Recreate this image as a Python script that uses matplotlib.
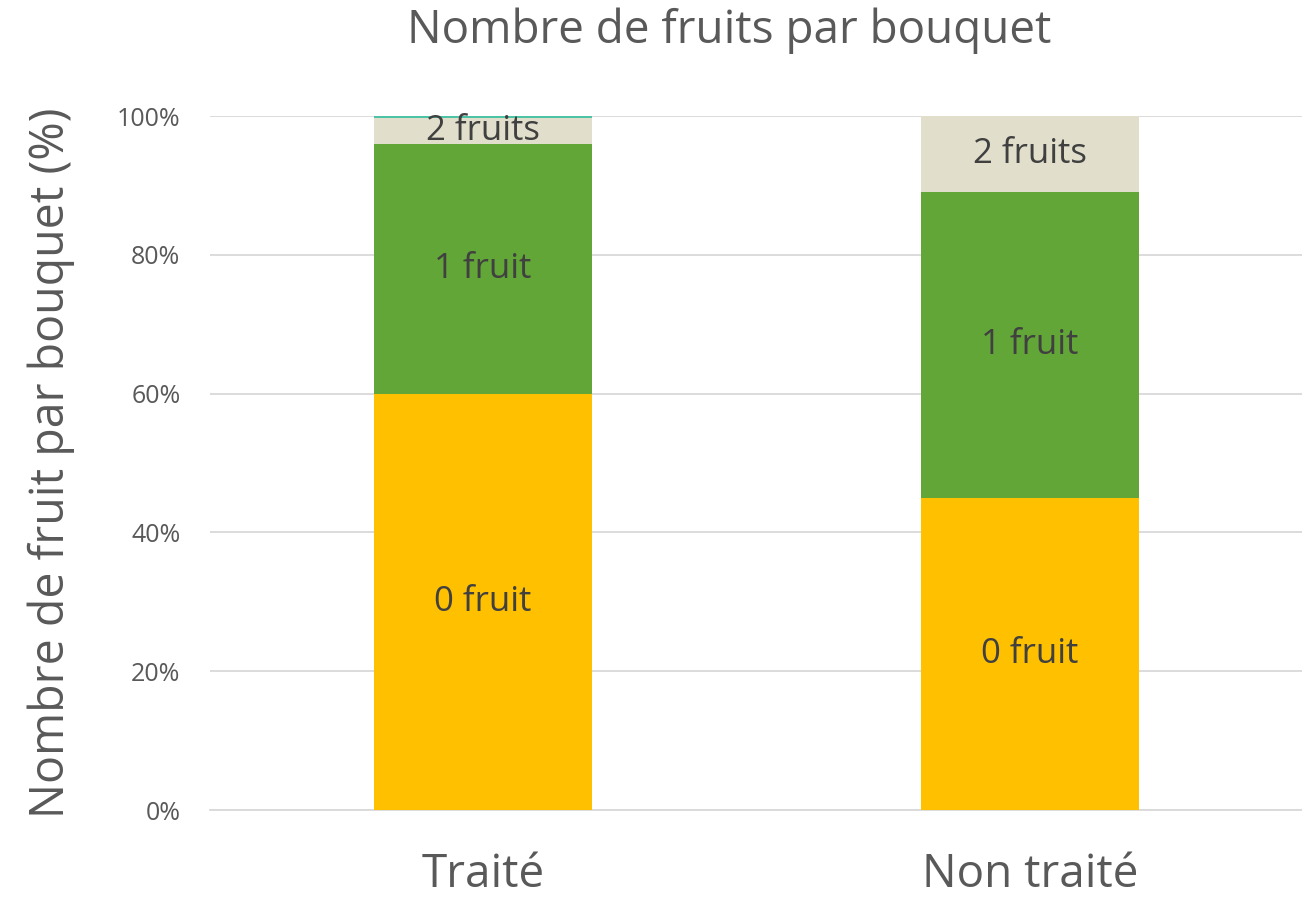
import matplotlib.pyplot as plt
import numpy as np

plt.rcParams['font.family'] = ['Open Sans', 'DejaVu Sans']

categories = ['Traité', 'Non traité']
fruit_0 = [60.0, 45.0]
fruit_1 = [36.0, 44.0]
fruit_2 = [3.7, 11.0]
fruit_3 = [0.3, 0.0]

series = [
    ('0 fruit', fruit_0, '#FFC000'),
    ('1 fruit', fruit_1, '#63A638'),
    ('2 fruits', fruit_2, '#E1DFCC'),
    ('3 fruits', fruit_3, '#4DC3A5'),
]

fig = plt.figure(figsize=(13.02, 9), dpi=100)
ax = fig.add_axes([0.161, 0.1, 0.840, 0.771])

x = np.arange(len(categories))
bottom = np.zeros(len(categories))
for name, vals, color in series:
    vals = np.array(vals)
    ax.bar(x, vals, 0.40, bottom=bottom, color=color, zorder=3)
    if name != '3 fruits':
        for xi, b, v in zip(x, bottom, vals):
            ax.text(xi, b + v / 2, name, ha='center', va='center',
                    fontsize=25, color='#404040', zorder=4)
    bottom += vals

ax.set_xlim(-0.5, 1.5)
ax.set_ylim(0, 100)
ax.set_yticks(np.arange(0, 101, 20))
ax.set_yticklabels([f'{v}%' for v in range(0, 101, 20)])
ax.set_xticks(x)
ax.set_xticklabels(categories)
ax.tick_params(axis='y', labelsize=18, labelcolor='#595959', length=0, pad=21)
ax.tick_params(axis='x', labelsize=33, labelcolor='#595959', length=0, pad=30)
ax.grid(axis='y', color='#D9D9D9', linewidth=1.3, zorder=0)
for s in ['top', 'right', 'left']:
    ax.spines[s].set_visible(False)
ax.spines['bottom'].set_color('#D9D9D9')
ax.spines['bottom'].set_linewidth(1.3)

ax.set_ylabel('Nombre de fruit par bouquet (%)', fontsize=33.5, color='#595959', labelpad=30)
fig.text(0.56, 0.966, 'Nombre de fruits par bouquet', ha='center', va='center',
         fontsize=33, color='#595959')

fig.savefig('out.png')
